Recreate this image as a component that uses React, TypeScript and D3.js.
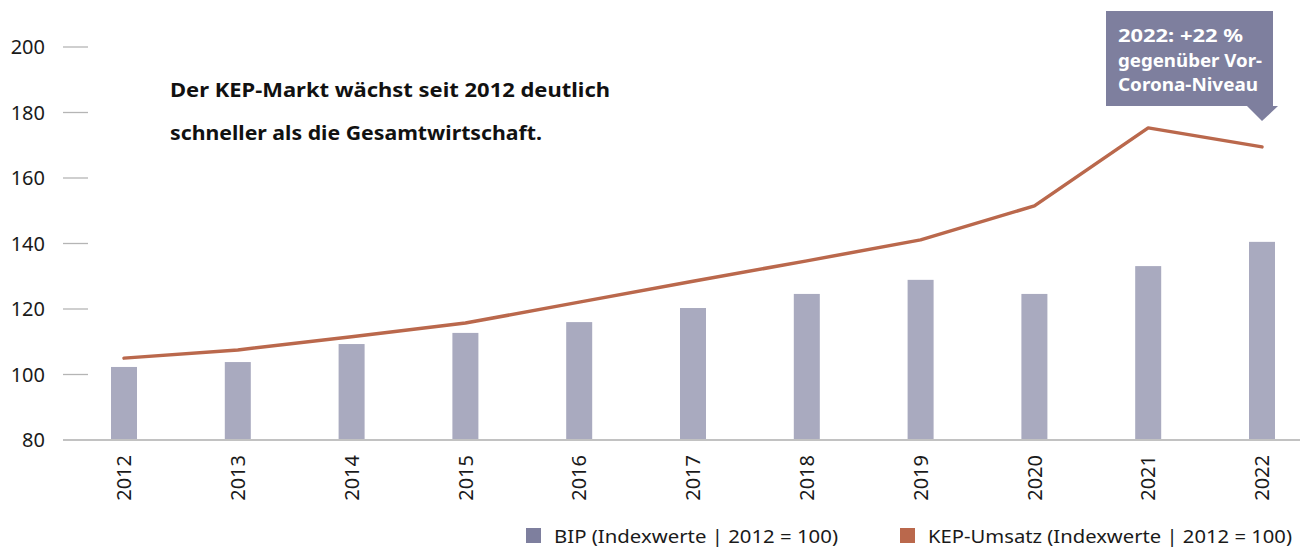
import React from "react";
import * as d3 from "d3";

const years = ["2012","2013","2014","2015","2016","2017","2018","2019","2020","2021","2022"];
const bipValues = [102.3,103.8,109.3,112.7,116.0,120.3,124.6,128.9,124.6,133.1,140.5];
const kepValues = [105.0,107.5,111.5,115.7,122.1,128.5,134.7,141.1,151.5,175.3,169.5];
const yTicks = [80,100,120,140,160,180,200];
const legendLabels = ["BIP (Indexwerte | 2012 = 100)", "KEP-Umsatz (Indexwerte | 2012 = 100)"];
const headline = ["Der KEP-Markt wächst seit 2012 deutlich", "schneller als die Gesamtwirtschaft."];
const callout = ["2022: +22 %", "gegenüber Vor-", "Corona-Niveau"];

const W = 1305, H = 549;
const FONT = "'Noto Sans', sans-serif";
const BAR = "#a9aabf";
const LINE = "#ba684c";
const CALLOUT = "#7e7f9e";

const headlineLen = [440, 372];
const calloutLen = [125, 144, 140];
const legendLen = [284, 364];

export default function App() {
  const x = d3.scalePoint<string>().domain(years).range([124, 1262]);
  const y = d3.scaleLinear().domain([80, 200]).range([440, 47]);
  const barW = 26;
  const line = d3.line<number>().x((_, i) => x(years[i])!).y(d => y(d));
  const cx = x("2022")!;

  return (
    <svg width={W} height={H} style={{ position: "absolute", left: 0, top: 0, display: "block", background: "#fff" }} fontFamily={FONT}>
      {yTicks.map(t => (
        <g key={t}>
          <text x={45} y={y(t)} dy="0.36em" textAnchor="end" fontSize={20} fill="#1a1a1a">{t}</text>
          {t !== 80 && <line x1={63} x2={88} y1={y(t)} y2={y(t)} stroke="#b5b5b5" strokeWidth={1.3} />}
        </g>
      ))}
      {bipValues.map((v, i) => (
        <rect key={years[i]} x={x(years[i])! - barW / 2} y={y(v)} width={barW} height={y(80) - y(v)} fill={BAR} />
      ))}
      <line x1={63} x2={1300} y1={y(80)} y2={y(80)} stroke="#c2c2c2" strokeWidth={2} />
      <path d={line(kepValues)!} fill="none" stroke={LINE} strokeWidth={3.5} strokeLinejoin="round" strokeLinecap="round" />
      {years.map(yr => (
        <text key={yr} transform={`translate(${x(yr)},455) rotate(-90)`} textAnchor="end" dy="0.36em" fontSize={20} fill="#1a1a1a">{yr}</text>
      ))}
      {headline.map((t, i) => (
        <text key={i} x={170} y={97 + i * 43} fontSize={20} fontWeight="bold" fill="#111"
          textLength={headlineLen[i]} lengthAdjust="spacingAndGlyphs">{t}</text>
      ))}
      <g>
        <rect x={1106} y={11} width={167} height={95} fill={CALLOUT} />
        <path d={`M${cx - 15},106 L${cx + 16},106 L${cx},121 Z`} fill={CALLOUT} />
        {callout.map((t, i) => (
          <text key={i} x={1118} y={42 + i * 24.5} fontSize={18} fontWeight="bold" fill="#fff"
            textLength={calloutLen[i]} lengthAdjust="spacingAndGlyphs">{t}</text>
        ))}
      </g>
      <g>
        <rect x={526} y={528} width={15} height={15} fill={CALLOUT} />
        <text x={554} y={543} fontSize={18} fill="#1a1a1a" textLength={legendLen[0]} lengthAdjust="spacingAndGlyphs">{legendLabels[0]}</text>
        <rect x={900} y={528} width={15} height={15} fill={LINE} />
        <text x={928} y={543} fontSize={18} fill="#1a1a1a" textLength={legendLen[1]} lengthAdjust="spacingAndGlyphs">{legendLabels[1]}</text>
      </g>
    </svg>
  );
}
